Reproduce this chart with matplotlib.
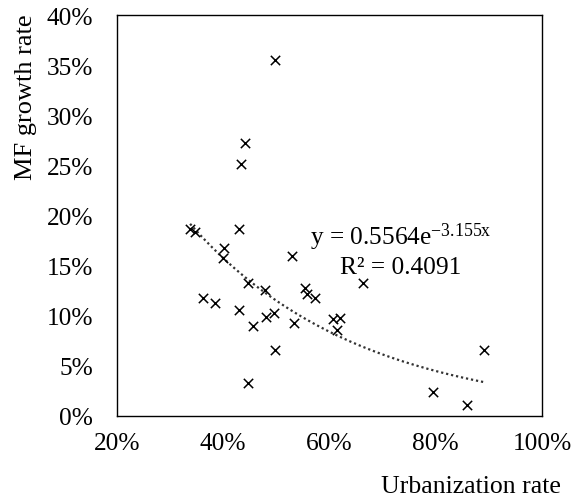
import numpy as np
import matplotlib
matplotlib.use("Agg")
import matplotlib.pyplot as plt
from matplotlib.ticker import PercentFormatter

plt.rcParams['font.family'] = ['Liberation Serif', 'DejaVu Serif']
plt.rcParams['mathtext.fontset'] = 'custom'
plt.rcParams['mathtext.rm'] = 'Liberation Serif'
plt.rcParams['mathtext.it'] = 'Liberation Serif'

# urbanization rate (%) and MF growth rate (%)
urban = [49.8, 44.1, 43.3, 43.0, 33.8, 34.7, 40.2, 39.9, 52.9, 44.6,
         47.9, 55.5, 55.7, 57.2, 66.3, 36.3, 38.5, 43.0, 49.6, 48.0,
         45.7, 53.3, 60.6, 62.0, 61.5, 49.8, 89.1, 44.6, 79.4, 85.8]
growth = [35.5, 27.2, 25.1, 18.6, 18.6, 18.3, 16.7, 15.7, 15.9, 13.2,
          12.5, 12.7, 12.1, 11.7, 13.2, 11.7, 11.2, 10.6, 10.3, 9.9,
          9.0, 9.3, 9.7, 9.8, 8.6, 6.6, 6.6, 3.3, 2.4, 1.1]

# exponential trendline coefficients
a, b = 0.5564, -3.155

fig = plt.figure(figsize=(5.71, 5.02), dpi=100)
ax = fig.add_axes([0.2044, 0.170, 0.745, 0.798])

ax.scatter(urban, growth, marker='x', s=45, color='black', linewidths=1.1, zorder=3)

xs = np.linspace(min(urban), max(urban), 200)
ax.plot(xs, 100 * a * np.exp(b * xs / 100), linestyle=(0, (1, 1.3)), color='#333333', linewidth=1.6)

ax.set_xlim(20, 100)
ax.set_ylim(0, 40)
ax.set_xticks([20, 40, 60, 80, 100])
ax.set_yticks(range(0, 41, 5))
ax.xaxis.set_major_formatter(PercentFormatter(decimals=0))
ax.yaxis.set_major_formatter(PercentFormatter(decimals=0))
ax.tick_params(axis='both', length=0, labelsize=18.3)
ax.tick_params(axis='y', pad=17)
ax.tick_params(axis='x', pad=12)
for s in ax.spines.values():
    s.set_linewidth(1.0)
    s.set_color('black')

# trendline label
ax.text(0.668, 0.448, r'y = 0.5564e$^{\mathrm{-3.155x}}$', transform=ax.transAxes,
        fontsize=18.3, ha='center', va='center')
ax.text(0.667, 0.372, 'R² = 0.4091', transform=ax.transAxes,
        fontsize=18.3, ha='center', va='center')

fig.text(0.982, 0.008, 'Urbanization rate', fontsize=18.5, ha='right', va='bottom')
fig.text(0.045, 0.972, 'MF growth rate', fontsize=19, rotation=90, ha='center', va='top')

fig.savefig('out.png', dpi=100)
